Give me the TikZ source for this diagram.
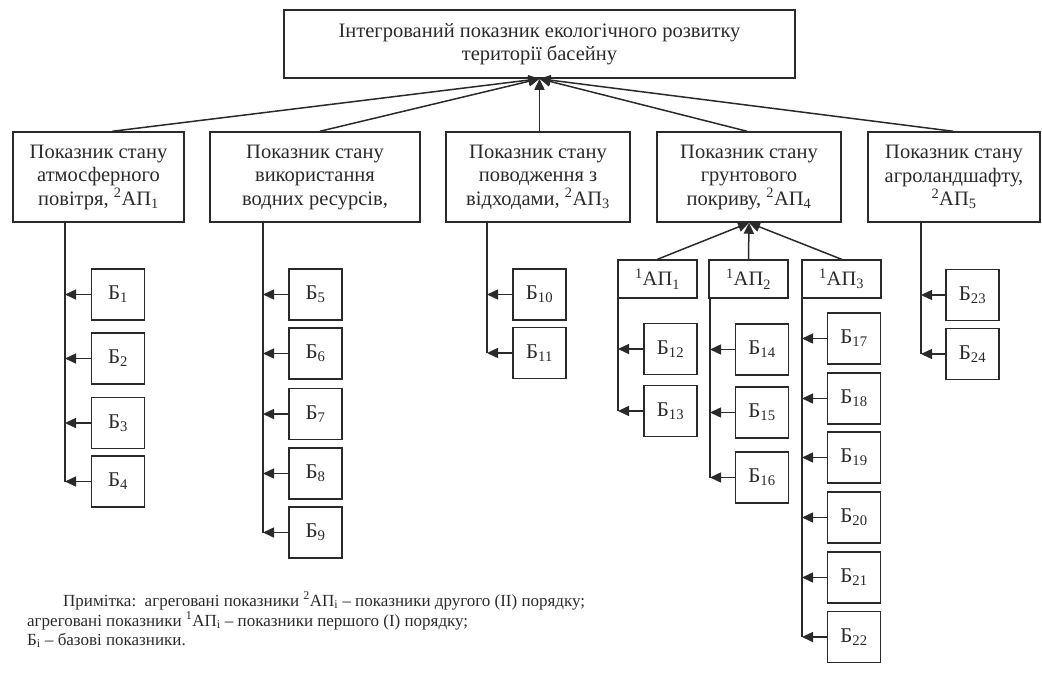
\documentclass[tikz,border=0pt]{standalone}
\usepackage{fontspec}
\setmainfont{Liberation Serif}
\usetikzlibrary{arrows.meta,calc}
\definecolor{ink}{HTML}{2A2A2A}
\tikzset{
  box/.style={draw=ink, line width=1.5pt, inner sep=0pt, align=center, text=ink,
    font=\fontsize{20.5}{23.5}\selectfont},
  bbox/.style={box, minimum width=53pt, minimum height=51pt, font=\fontsize{21}{22}\selectfont},
  subbox/.style={box, minimum width=79pt, minimum height=38pt, font=\fontsize{20.5}{22}\selectfont},
  link/.style={draw=ink, line width=1.5pt},
  arr/.style={link, -{Triangle[length=11pt,width=10pt]}},
  note/.style={anchor=base west, inner sep=0pt, text=ink, font=\fontsize{17}{20}\selectfont}
}
\newcommand{\Bi}[1]{Б\textsubscript{#1}}
\newcommand{\APtwo}[1]{\textsuperscript{2}АП\textsubscript{#1}}
\newcommand{\APone}[1]{\textsuperscript{1}АП\textsubscript{#1}}
\begin{document}
\begin{tikzpicture}[x=1pt,y=-1pt]
\useasboundingbox (0,0) rectangle (1042,673);
% top
\node[box, minimum width=511pt, minimum height=68pt] (top) at (539.5,44)
  {Інтегрований показник екологічного розвитку\\території басейну};
% second level
\node[box, minimum width=171pt, minimum height=90pt] (s1) at (98.5,177)
  {Показник стану\\атмосферного\\повітря, \APtwo{1}};
\node[box, minimum width=210pt, minimum height=90pt] (s2) at (315,177)
  {Показник стану\\використання\\водних ресурсів,};
\node[box, minimum width=184pt, minimum height=90pt] (s3) at (538,177)
  {Показник стану\\поводження з\\відходами, \APtwo{3}};
\node[box, minimum width=184pt, minimum height=90pt] (s4) at (749,177)
  {Показник стану\\грунтового\\покриву, \APtwo{4}};
\node[box, minimum width=172pt, minimum height=90pt] (s5) at (954,177)
  {Показник стану\\агроландшафту,\\\APtwo{5}};
\draw[arr] ([xshift=14pt]s1.north) -- (top.south);
\draw[arr] ([xshift=5pt]s2.north) -- (top.south);
\draw[arr] (s3.north -| top.south) -- (top.south);
\draw[arr] ([xshift=-2pt]s4.north) -- (top.south);
\draw[arr] ([xshift=-1pt]s5.north) -- (top.south);
% column 1
\node[bbox] (b1) at (118,294.5) {\Bi{1}};
\node[bbox] (b2) at (118,358.5) {\Bi{2}};
\node[bbox] (b3) at (118,423) {\Bi{3}};
\node[bbox] (b4) at (118,481.5) {\Bi{4}};
\coordinate (c1) at (65,481.5);
\draw[link] (s1.south -| c1) -- (c1);
\foreach \b in {b1,b2,b3,b4} \draw[arr] (\b.west) -- (\b.west -| c1);
% column 2
\node[bbox] (b5) at (315.5,294.5) {\Bi{5}};
\node[bbox] (b6) at (315.5,353.5) {\Bi{6}};
\node[bbox] (b7) at (315.5,414) {\Bi{7}};
\node[bbox] (b8) at (315.5,473.5) {\Bi{8}};
\node[bbox] (b9) at (315.5,532.5) {\Bi{9}};
\coordinate (c2) at (263,532.5);
\draw[link] (s2.south -| c2) -- (c2);
\foreach \b in {b5,b6,b7,b8,b9} \draw[arr] (\b.west) -- (\b.west -| c2);
% column 3
\node[bbox] (b10) at (539.5,294.5) {\Bi{10}};
\node[bbox] (b11) at (539.5,353) {\Bi{11}};
\coordinate (c3) at (487,353);
\draw[link] (s3.south -| c3) -- (c3);
\foreach \b in {b10,b11} \draw[arr] (\b.west) -- (\b.west -| c3);
% column 4
\node[subbox] (a1) at (657.5,279) {\APone{1}};
\node[subbox] (a2) at (748.5,279) {\APone{2}};
\node[subbox] (a3) at (841.5,279) {\APone{3}};
\foreach \a in {a1,a2,a3} \draw[arr] (\a.north) -- (s4.south);
\node[bbox] (b12) at (670.5,349) {\Bi{12}};
\node[bbox] (b13) at (670.5,411) {\Bi{13}};
\coordinate (d1) at (618,411);
\draw[link] (a1.south -| d1) -- (d1);
\foreach \b in {b12,b13} \draw[arr] (\b.west) -- (\b.west -| d1);
\node[bbox] (b14) at (762,349.5) {\Bi{14}};
\node[bbox] (b15) at (762,412.5) {\Bi{15}};
\node[bbox] (b16) at (762,477.5) {\Bi{16}};
\coordinate (d2) at (710,477.5);
\draw[link] (a2.south -| d2) -- (d2);
\foreach \b in {b14,b15,b16} \draw[arr] (\b.west) -- (\b.west -| d2);
\node[bbox] (b17) at (854,338.5) {\Bi{17}};
\node[bbox] (b18) at (854,398.5) {\Bi{18}};
\node[bbox] (b19) at (854,457.5) {\Bi{19}};
\node[bbox] (b20) at (854,517.5) {\Bi{20}};
\node[bbox] (b21) at (854,577.5) {\Bi{21}};
\node[bbox] (b22) at (854,637) {\Bi{22}};
\coordinate (d3) at (802,637);
\draw[link] (a3.south -| d3) -- (d3);
\foreach \b in {b17,b18,b19,b20,b21,b22} \draw[arr] (\b.west) -- (\b.west -| d3);
% column 5
\node[bbox] (b23) at (972.5,295) {\Bi{23}};
\node[bbox] (b24) at (972.5,354) {\Bi{24}};
\coordinate (c5) at (921,354);
\draw[link] (s5.south -| c5) -- (c5);
\foreach \b in {b23,b24} \draw[arr] (\b.west) -- (\b.west -| c5);
% note
\node[note] (n1) at (63,606) {Примітка:\ \ агреговані показники \APtwo{i} – показники другого (ІІ) порядку;};
\node[note] (n2) at (27,626) {агреговані показники \APone{i} – показники першого (І) порядку;};
\node[note] (n3) at (27,645) {\Bi{i} – базові показники.};
\end{tikzpicture}
\end{document}
